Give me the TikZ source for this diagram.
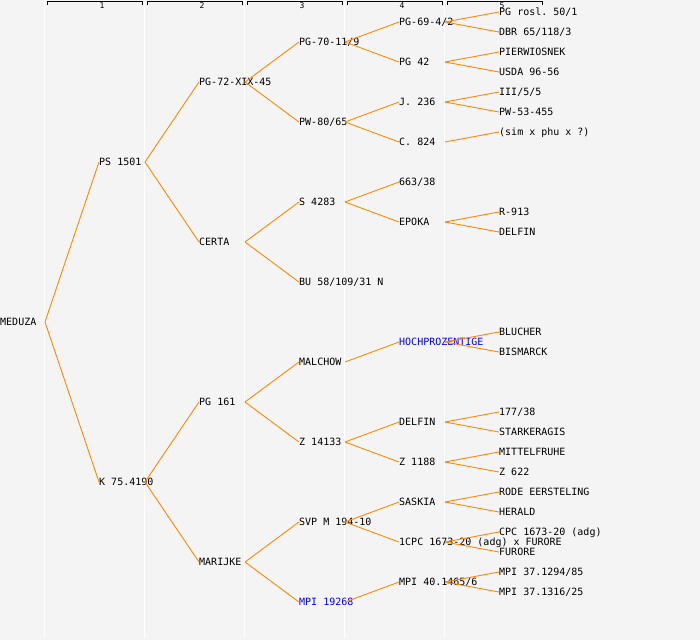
\documentclass[tikz,border=0pt]{standalone}
\usepackage{fontspec}
\setmonofont{DejaVu Sans Mono}

\definecolor{pagegray}{HTML}{F4F4F4}
\definecolor{lineorange}{RGB}{255,136,0}
\definecolor{nameblue}{RGB}{0,0,255}

\begin{document}
\begin{tikzpicture}[x=1pt, y=-1pt,
    every node/.style={anchor=west, inner sep=0pt, text height=7.4pt, text depth=0pt,
        font=\ttfamily\fontsize{10}{10}\selectfont},
    branch/.style={draw=lineorange, line width=0.9pt},
    colnum/.style={anchor=center, text height=5.8pt, font=\ttfamily\fontsize{8}{8}\selectfont},
    blue name/.style={text=nameblue}]

            % Page and column grid
            \fill[pagegray] (0,0) rectangle (700,640);
            \useasboundingbox (0,0) rectangle (700,640);
            \foreach \x in {44.5,144.5,244.5,344.5,444.5}
                \draw[white, line width=1.5pt] (\x,0) -- (\x,638);

            % Generation headers
            \foreach \c in {1,...,5} {
                \draw[line width=0.8pt] (100*\c-52.5,4.5) -- (100*\c-52.5,1.5) -- (100*\c+42.5,1.5) -- (100*\c+42.5,4.5);
                \node[colnum] (gen\c) at (100*\c+2,6) {\c};
            }

            % Generation 0
            \node (meduza) at (0,322) {MEDUZA};

            % Generation 1
            \node (ps) at (99,162) {PS 1501};
            \node (k) at (99,482) {K 75.4190};

            % Generation 2
            \node (pg72) at (199,82) {PG-72-XIX-45};
            \node (certa) at (199,242) {CERTA};
            \node (pg161) at (199,402) {PG 161};
            \node (marijke) at (199,562) {MARIJKE};

            % Generation 3
            \node (pg70) at (299,42) {PG-70-11/9};
            \node (pw80) at (299,122) {PW-80/65};
            \node (s4283) at (299,202) {S 4283};
            \node (bu58) at (299,282) {BU 58/109/31 N};
            \node (malchow) at (299,362) {MALCHOW};
            \node (z14133) at (299,442) {Z 14133};
            \node (svp) at (299,522) {SVP M 194-10};
            \node[blue name] (mpi19268) at (299,602) {MPI 19268};

            % Generation 4
            \node (pg69) at (399,22) {PG-69-4/2};
            \node (pg42) at (399,62) {PG 42};
            \node (j236) at (399,102) {J. 236};
            \node (c824) at (399,142) {C. 824};
            \node (n663) at (399,182) {663/38};
            \node (epoka) at (399,222) {EPOKA};
            \node[blue name] (hoch) at (399,342) {HOCHPROZENTIGE};
            \node (delfinA) at (399,422) {DELFIN};
            \node (z1188) at (399,462) {Z 1188};
            \node (saskia) at (399,502) {SASKIA};
            \node (cpcx) at (399,542) {1CPC 1673-20 (adg) x FURORE};
            \node (mpi40) at (399,582) {MPI 40.1465/6};

            % Generation 5
            \node (pgrosl) at (499,12) {PG rosl. 50/1};
            \node (dbr) at (499,32) {DBR 65/118/3};
            \node (pierw) at (499,52) {PIERWIOSNEK};
            \node (usda) at (499,72) {USDA 96-56};
            \node (iii) at (499,92) {III/5/5};
            \node (pw53) at (499,112) {PW-53-455};
            \node (sim) at (499,132) {(sim x phu x ?)};
            \node (r913) at (499,212) {R-913};
            \node (delfinB) at (499,232) {DELFIN};
            \node (blucher) at (499,332) {BLUCHER};
            \node (bismarck) at (499,352) {BISMARCK};
            \node (n177) at (499,412) {177/38};
            \node (stark) at (499,432) {STARKERAGIS};
            \node (mittel) at (499,452) {MITTELFRUHE};
            \node (z622) at (499,472) {Z 622};
            \node (rode) at (499,492) {RODE EERSTELING};
            \node (herald) at (499,512) {HERALD};
            \node (cpc) at (499,532) {CPC 1673-20 (adg)};
            \node (furore) at (499,552) {FURORE};
            \node (mpiA) at (499,572) {MPI 37.1294/85};
            \node (mpiB) at (499,592) {MPI 37.1316/25};

            % Branches (parent -> child)
            \draw[branch] ([xshift=45pt]meduza.west) -- (ps.west);
            \draw[branch] ([xshift=45pt]meduza.west) -- (k.west);

            \draw[branch] ([xshift=46pt]ps.west) -- (pg72.west);
            \draw[branch] ([xshift=46pt]ps.west) -- (certa.west);
            \draw[branch] ([xshift=46pt]k.west) -- (pg161.west);
            \draw[branch] ([xshift=46pt]k.west) -- (marijke.west);

            \draw[branch] ([xshift=46pt]pg72.west) -- (pg70.west);
            \draw[branch] ([xshift=46pt]pg72.west) -- (pw80.west);
            \draw[branch] ([xshift=46pt]certa.west) -- (s4283.west);
            \draw[branch] ([xshift=46pt]certa.west) -- (bu58.west);
            \draw[branch] ([xshift=46pt]pg161.west) -- (malchow.west);
            \draw[branch] ([xshift=46pt]pg161.west) -- (z14133.west);
            \draw[branch] ([xshift=46pt]marijke.west) -- (svp.west);
            \draw[branch] ([xshift=46pt]marijke.west) -- (mpi19268.west);

            \draw[branch] ([xshift=46pt]pg70.west) -- (pg69.west);
            \draw[branch] ([xshift=46pt]pg70.west) -- (pg42.west);
            \draw[branch] ([xshift=46pt]pw80.west) -- (j236.west);
            \draw[branch] ([xshift=46pt]pw80.west) -- (c824.west);
            \draw[branch] ([xshift=46pt]s4283.west) -- (n663.west);
            \draw[branch] ([xshift=46pt]s4283.west) -- (epoka.west);
            \draw[branch] ([xshift=46pt]malchow.west) -- (hoch.west);
            \draw[branch] ([xshift=46pt]z14133.west) -- (delfinA.west);
            \draw[branch] ([xshift=46pt]z14133.west) -- (z1188.west);
            \draw[branch] ([xshift=46pt]svp.west) -- (saskia.west);
            \draw[branch] ([xshift=46pt]svp.west) -- (cpcx.west);
            \draw[branch] ([xshift=46pt]mpi19268.west) -- (mpi40.west);

            \draw[branch] ([xshift=46pt]pg69.west) -- (pgrosl.west);
            \draw[branch] ([xshift=46pt]pg69.west) -- (dbr.west);
            \draw[branch] ([xshift=46pt]pg42.west) -- (pierw.west);
            \draw[branch] ([xshift=46pt]pg42.west) -- (usda.west);
            \draw[branch] ([xshift=46pt]j236.west) -- (iii.west);
            \draw[branch] ([xshift=46pt]j236.west) -- (pw53.west);
            \draw[branch] ([xshift=46pt]c824.west) -- (sim.west);
            \draw[branch] ([xshift=46pt]epoka.west) -- (r913.west);
            \draw[branch] ([xshift=46pt]epoka.west) -- (delfinB.west);
            \draw[branch] ([xshift=46pt]hoch.west) -- (blucher.west);
            \draw[branch] ([xshift=46pt]hoch.west) -- (bismarck.west);
            \draw[branch] ([xshift=46pt]delfinA.west) -- (n177.west);
            \draw[branch] ([xshift=46pt]delfinA.west) -- (stark.west);
            \draw[branch] ([xshift=46pt]z1188.west) -- (mittel.west);
            \draw[branch] ([xshift=46pt]z1188.west) -- (z622.west);
            \draw[branch] ([xshift=46pt]saskia.west) -- (rode.west);
            \draw[branch] ([xshift=46pt]saskia.west) -- (herald.west);
            \draw[branch] ([xshift=46pt]cpcx.west) -- (cpc.west);
            \draw[branch] ([xshift=46pt]cpcx.west) -- (furore.west);
            \draw[branch] ([xshift=46pt]mpi40.west) -- (mpiA.west);
            \draw[branch] ([xshift=46pt]mpi40.west) -- (mpiB.west);
            \end{tikzpicture}
\end{document}
